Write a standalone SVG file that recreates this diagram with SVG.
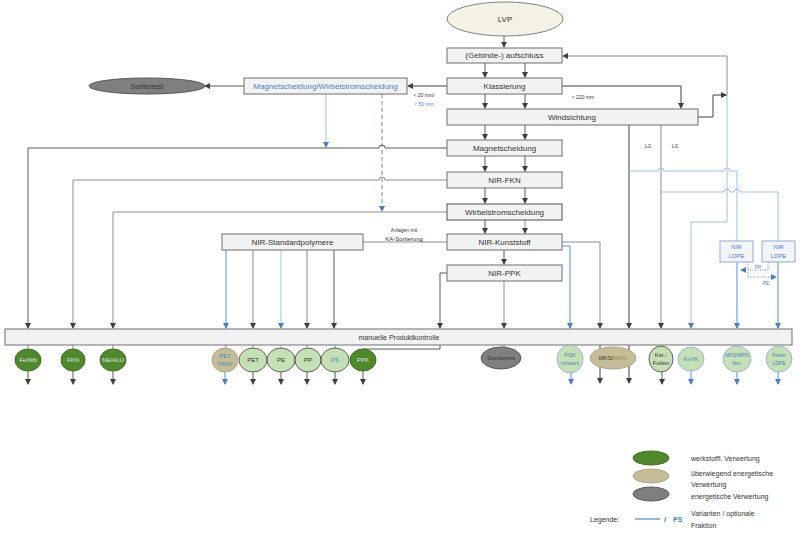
<svg xmlns="http://www.w3.org/2000/svg" width="811" height="542" viewBox="0 0 811 542">
<defs>
<marker id="a" markerUnits="userSpaceOnUse" markerWidth="6" markerHeight="6" refX="5" refY="3" orient="auto"><path d="M0,0 L6,3 L0,6 z" fill="#404040"/></marker>
<marker id="b" markerUnits="userSpaceOnUse" markerWidth="6" markerHeight="6" refX="5" refY="3" orient="auto"><path d="M0,0 L6,3 L0,6 z" fill="#4a7fc8"/></marker>
<style>
text{font-family:"Liberation Sans",Arial,sans-serif;font-size:8px;fill:#333333;text-anchor:middle;dominant-baseline:central}
.box{fill:#f2f2f2;stroke:#6e6e6e;stroke-width:1}
.bbox{fill:#f2f4f8;stroke:#8eaadb;stroke-width:1}
.c{fill:none;stroke:#595959;stroke-width:1}
.g{fill:none;stroke:#8c8c8c;stroke-width:1}
.d{fill:none;stroke:#404040;stroke-width:1}
.bl{fill:none;stroke:#5b8fd0;stroke-width:1}
.lb{fill:none;stroke:#9dc3e6;stroke-width:1}
.dg{fill:#4e8a2c;stroke:#3f6f22}
.lg{fill:#c5e0b4;stroke:#404040;stroke-width:0.8}
.lgb{fill:#c5e0b4;stroke:#8eaadb;stroke-width:0.8}
.tan{fill:#c4bd97;stroke:#a09a78;stroke-width:0.8}
.gr{fill:#7f7f7f;stroke:#595959}
.s{font-size:6px}
.xs{font-size:5px}
.blt{fill:#4a7fc8}
.w{fill:#e4e4e4}
.l{text-anchor:start}
</style>
</defs>

<g id="connectors">
<path class="c" d="M504,36 V47" marker-end="url(#a)"/>
<path class="c" d="M485,63 V77" marker-end="url(#a)"/>
<path class="c" d="M525,63 V77" marker-end="url(#a)"/>
<path class="c" d="M485,94 V108" marker-end="url(#a)"/>
<path class="c" d="M525,94 V108" marker-end="url(#a)"/>
<path class="d" d="M562,86 H681 V108" marker-end="url(#a)"/>
<path class="d" d="M698,117 H713 V95 H726" marker-end="url(#a)"/>
<path class="g" d="M727,96 V56 H563" marker-end="url(#a)"/>
<path class="lb" d="M727,96 V222 H691 V328" marker-end="url(#b)"/>
<path class="c" d="M485,125 V139" marker-end="url(#a)"/>
<path class="c" d="M525,125 V139" marker-end="url(#a)"/>
<path class="c" d="M485,156 V171" marker-end="url(#a)"/>
<path class="c" d="M525,156 V171" marker-end="url(#a)"/>
<path class="c" d="M485,188 V203" marker-end="url(#a)"/>
<path class="c" d="M525,188 V203" marker-end="url(#a)"/>
<path class="c" d="M485,220 V233" marker-end="url(#a)"/>
<path class="g" d="M525,220 V233" marker-end="url(#a)"/>
<path class="c" d="M504,250 V264" marker-end="url(#a)"/>
<path class="d" d="M447,86 H408" marker-end="url(#a)"/>
<path class="c" d="M244,86 H205" marker-end="url(#a)"/>
<path class="lb" d="M326,94 V147" marker-end="url(#b)"/>
<path class="bl" d="M382,94 V211" stroke-dasharray="4,3" marker-end="url(#b)"/>
<path class="c" d="M447,148 H385 A3,3 0 0 0 379,148 H28 V328" marker-end="url(#a)"/>
<path class="g" d="M447,180 H385 A3,3 0 0 0 379,180 H73 V328" marker-end="url(#a)"/>
<path class="g" d="M447,212 H113 V328" stroke-width="1.3" marker-end="url(#a)"/>
<path class="g" d="M363,242 H447"/>
<path class="bl" d="M226,250 V328" marker-end="url(#b)"/>
<path class="g" d="M253,250 V328" marker-end="url(#a)"/>
<path class="lb" d="M281,250 V328" marker-end="url(#b)"/>
<path class="g" d="M307,250 V328" marker-end="url(#a)"/>
<path class="c" d="M334,250 V328" marker-end="url(#a)"/>
<path class="c" d="M447,273 H440 V328" marker-end="url(#a)"/>
<path class="g" d="M504,281 V328" marker-end="url(#a)"/>
<path class="g" d="M562,242 H600 V328" marker-end="url(#a)"/>
<path class="bl" d="M562,246 H570 V328" marker-end="url(#b)"/>
<path class="d" d="M629,125 V328" marker-end="url(#a)"/>
<path class="g" d="M661,125 V328" marker-end="url(#a)"/>
<path class="lb" d="M629,171 H658 A3,3 0 0 1 664,171 H724 A3,3 0 0 1 730,171 H737 V241"/>
<path class="lb" d="M661,192 H724 A3,3 0 0 1 730,192 H734 A3,3 0 0 1 740,192 H778 V241"/>
<path class="bl" d="M737,262 V328" marker-end="url(#b)"/>
<path class="bl" d="M778,262 V328" marker-end="url(#b)"/>
<path class="bl" d="M768,262 V270 H741" stroke-dasharray="1,1.5" marker-end="url(#b)"/>
<path class="bl" d="M748,262 V277 H776" stroke-dasharray="1,1.5" marker-end="url(#b)"/>
<path class="g" d="M28,345 V349"/>
<path class="g" d="M73,345 V349"/>
<path class="g" d="M113,345 V349"/>
<path class="bl" d="M226,345 V348"/>
<path class="g" d="M253,345 V348"/>
<path class="lb" d="M281,345 V348"/>
<path class="g" d="M307,345 V348"/>
<path class="g" d="M335,345 V348"/>
<path class="c" d="M440,345 V349 H363 V350"/>
<path class="c" d="M504,345 V347"/>
<path class="d" d="M600,345 V383" marker-end="url(#a)"/>
<path class="d" d="M629,345 V383" marker-end="url(#a)"/>
<path class="c" d="M28,371 V384" marker-end="url(#a)"/>
<path class="c" d="M73,371 V384" marker-end="url(#a)"/>
<path class="c" d="M113,371 V384" marker-end="url(#a)"/>
<path class="bl" d="M225,372 V384" marker-end="url(#b)"/>
<path class="c" d="M253,372 V384" marker-end="url(#a)"/>
<path class="c" d="M281,372 V384" marker-end="url(#a)"/>
<path class="c" d="M307,372 V384" marker-end="url(#a)"/>
<path class="c" d="M335,372 V384" marker-end="url(#a)"/>
<path class="c" d="M363,371 V384" marker-end="url(#a)"/>
<path class="bl" d="M571,373 V384" marker-end="url(#b)"/>
<path class="c" d="M662,372 V384" marker-end="url(#a)"/>
<path class="bl" d="M691,371 V384" marker-end="url(#b)"/>
<path class="bl" d="M737,372 V384" marker-end="url(#b)"/>
<path class="bl" d="M778,372 V384" marker-end="url(#b)"/>
</g>

<g id="labels">
<text x="583" y="97" class="xs">&gt; 220 mm</text>
<text x="424" y="95" class="xs">&lt; 20 mm/</text>
<text x="424" y="104" class="xs blt">&lt; 50 mm</text>
<text x="404" y="230" class="xs">Anlagen mit</text>
<text x="404" y="239" class="s">KA-Sortierung</text>
<text x="648" y="146" class="xs">LG</text>
<text x="675" y="146" class="xs">LG</text>
<text x="758" y="267" class="xs blt">PP</text>
<text x="766" y="283" class="xs blt">PE</text>
</g>

<g id="LVP"><ellipse cx="505" cy="19" rx="58" ry="17" fill="#f4f2e4" stroke="#7f7f7f"/><text x="505" y="19">LVP</text></g>
<g id="gebinde"><rect class="box" x="447" y="48" width="115" height="15"/><text x="504.5" y="55.5">(Gebinde-) aufschluss</text></g>
<g id="klassierung"><rect class="box" x="447" y="78" width="115" height="16"/><text x="504.5" y="86">Klassierung</text></g>
<g id="windsichtung"><rect class="box" x="447" y="109" width="251" height="16"/><text x="572" y="117">Windsichtung</text></g>
<g id="magwirb"><rect class="box" x="244" y="78" width="163" height="16"/><text x="325.5" y="86" class="blt">Magnetscheidung/Wirbelstromscheidung</text></g>
<g id="sortierrest1"><ellipse class="gr" cx="147" cy="86" rx="58" ry="8"/><text x="147" y="86" style="font-size:7px">Sortierrest</text></g>
<g id="magnetscheidung"><rect class="box" x="447" y="140" width="115" height="16"/><text x="504.5" y="148">Magnetscheidung</text></g>
<g id="nirfkn"><rect class="box" x="447" y="172" width="115" height="16"/><text x="504.5" y="180">NIR-FKN</text></g>
<g id="wirbel"><rect class="box" x="447" y="204" width="115" height="16" style="stroke:#505050"/><text x="504.5" y="212">Wirbelstromscheidung</text></g>
<g id="nirkunst"><rect class="box" x="447" y="234" width="115" height="16"/><text x="504.5" y="242">NIR-Kunststoff</text></g>
<g id="nirppk"><rect class="box" x="447" y="265" width="115" height="16"/><text x="504.5" y="273">NIR-PPK</text></g>
<g id="nirstd"><rect class="box" x="222" y="234" width="141" height="16"/><text x="292.5" y="242">NIR-Standardpolymere</text></g>
<g id="ldpe1"><rect class="bbox" x="720" y="241" width="33" height="21"/><text x="736.5" y="247" class="s blt">NIR</text><text x="736.5" y="256" class="s blt">LDPE</text></g>
<g id="ldpe2"><rect class="bbox" x="762" y="241" width="33" height="21"/><text x="778.5" y="247" class="s blt">NIR</text><text x="778.5" y="256" class="s blt">LDPE</text></g>
<g id="produktkontrolle"><rect class="box" x="5" y="329" width="787" height="16"/><text x="399" y="337" style="font-size:7px">manuelle Produktkontrolle</text></g>

<g id="fewb"><ellipse class="dg" cx="28" cy="360" rx="13" ry="11"/><text x="28" y="360" class="s w">Fe/Wb</text></g>
<g id="fkn"><ellipse class="dg" cx="73" cy="360" rx="12" ry="11"/><text x="73" y="360" class="s w">FKN</text></g>
<g id="nealu"><ellipse class="dg" cx="113" cy="360" rx="13" ry="11"/><text x="113" y="360" class="s w">NE/ALU</text></g>
<g id="pettray"><ellipse class="tan" cx="225" cy="360" rx="13" ry="12"/><text x="225" y="356" class="s blt">PET</text><text x="225" y="364" class="s blt">TRAY</text></g>
<g id="pet"><ellipse class="lg" cx="253" cy="360" rx="14" ry="12"/><text x="253" y="360" class="s">PET</text></g>
<g id="pe"><ellipse class="lg" cx="281" cy="360" rx="14" ry="12"/><text x="281" y="360" class="s">PE</text></g>
<g id="pp"><ellipse class="lg" cx="308" cy="360" rx="13" ry="12"/><text x="308" y="360" class="s">PP</text></g>
<g id="ps"><ellipse class="lg" cx="335" cy="360" rx="14" ry="12"/><text x="335" y="360" class="s blt">PS</text></g>
<g id="ppk"><ellipse class="dg" cx="363" cy="360" rx="13" ry="11"/><text x="363" y="360" class="s w">PPK</text></g>
<g id="sortierrest2"><ellipse class="gr" cx="501" cy="358" rx="20" ry="11"/><text x="501" y="358" class="s">Sortierrest</text></g>
<g id="fsk"><ellipse class="lgb" cx="570" cy="359" rx="13" ry="14"/><text x="570" y="355" class="s blt">FSK</text><text x="570" y="363" class="xs blt">schwarz</text></g>
<g id="mksmpo"><ellipse class="tan" cx="613" cy="358" rx="23" ry="11"/><text x="613" y="358" class="s">MKS/<tspan fill="#9c8f3c">MPO</tspan></text></g>
<g id="kstfolien"><ellipse class="lg" cx="661" cy="359" rx="12" ry="13"/><text x="661" y="355" class="s">Kst.-</text><text x="661" y="363" class="s">Folien</text></g>
<g id="kshk"><ellipse class="lgb" cx="691" cy="359" rx="13" ry="12"/><text x="691" y="359" class="xs blt">Ks-HK</text></g>
<g id="mksflex"><ellipse class="lgb" cx="737" cy="359" rx="14" ry="13"/><text x="737" y="355" class="xs blt">MKS/MPO</text><text x="737" y="363" class="xs blt">flex.</text></g>
<g id="folienldpe"><ellipse class="lgb" cx="779" cy="359" rx="13" ry="13"/><text x="779" y="355" class="xs blt">Folien</text><text x="779" y="363" class="xs blt">LDPE</text></g>

<g id="legend">
<ellipse class="dg" cx="651" cy="458" rx="18" ry="7"/>
<ellipse class="tan" cx="651" cy="476" rx="18" ry="7"/>
<ellipse class="gr" cx="651" cy="494" rx="18" ry="7"/>
<text x="691" y="458" class="l" style="font-size:7px">werkstoffl. Verwertung</text>
<text x="691" y="473" class="l" style="font-size:7px">überwiegend energetische</text>
<text x="691" y="484" class="l" style="font-size:7px">Verwertung</text>
<text x="691" y="496" class="l" style="font-size:7px">energetische Verwertung</text>
<text x="590" y="519" class="l" style="font-size:7px">Legende:</text>
<path d="M635,519 H660" stroke="#5b8fd0" stroke-width="1.3"/>
<text x="664" y="519" class="l blt" style="font-size:8px;font-weight:bold">/</text>
<text x="673" y="519" class="l blt" style="font-size:7px;font-weight:bold">PS</text>
<text x="691" y="513" class="l" style="font-size:7px">Varianten / optionale</text>
<text x="691" y="525" class="l" style="font-size:7px">Fraktion</text>
</g>
</svg>
